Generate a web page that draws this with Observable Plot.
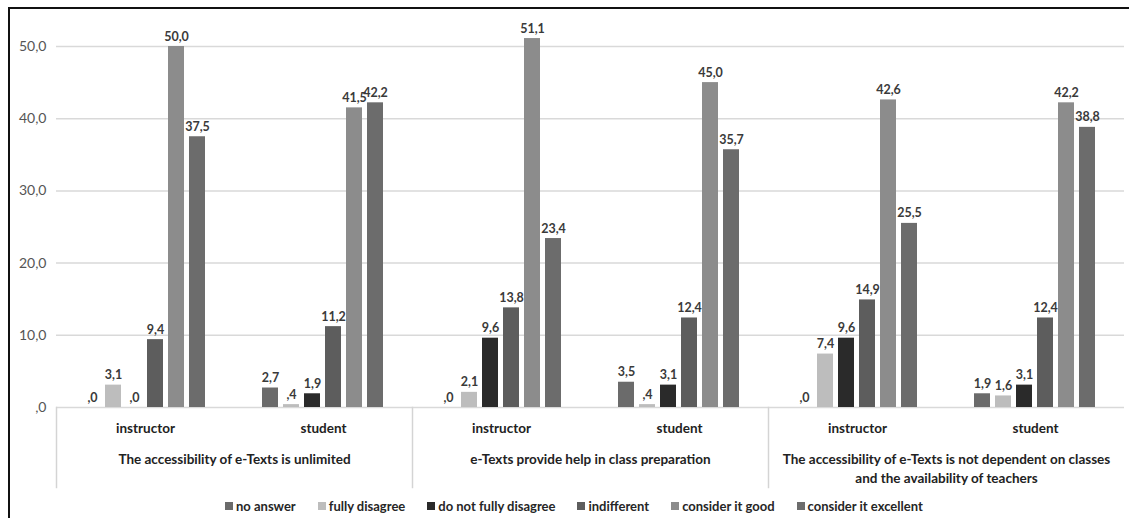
<!DOCTYPE html>
<html><head><meta charset="utf-8">
<script src="https://cdn.jsdelivr.net/npm/d3@7"></script>
<script src="https://cdn.jsdelivr.net/npm/@observablehq/plot@0.6"></script>
<style>
body{margin:0;background:#fff;}
#wrap{position:relative;width:1129px;height:518px;overflow:hidden;background:#fff;}
#border{position:absolute;left:8px;top:7px;width:1200px;height:600px;border-left:2px solid #111;border-top:2px solid #111;}
#chart{position:absolute;left:0;top:0;}
#legend{position:absolute;left:225px;top:489px;width:900px;white-space:nowrap;}
#legend div, #legend span{font-family:"Liberation Sans Narrow","Lato",sans-serif !important;font-size:13px !important;font-weight:bold !important;color:#262626 !important;margin-bottom:0 !important;}
#legend span{margin-right:22px !important;}
#legend svg{margin-right:3px !important;}
</style></head>
<body><div id="wrap"><div id="border"></div><div id="chart"></div><div id="legend"></div></div>
<script>
const categories = [
  "The accessibility of e-Texts is unlimited",
  "e-Texts provide help in class preparation",
  "The accessibility of e-Texts is not dependent on classes\nand the availability of teachers"
];
const roles = ["instructor", "student"];
const series = ["no answer", "fully disagree", "do not fully disagree", "indifferent", "consider it good", "consider it excellent"];
const colors = ["#6b6b6b", "#bdbdbd", "#2a2a2a", "#5d5d5d", "#8c8c8c", "#6c6c6c"];
const yTicks = [0, 10, 20, 30, 40, 50];

const unlimitedInstructor   = [0, 3.1, 0, 9.4, 50.0, 37.5];
const unlimitedStudent      = [2.7, 0.4, 1.9, 11.2, 41.5, 42.2];
const preparationInstructor = [0, 2.1, 9.6, 13.8, 51.1, 23.4];
const preparationStudent    = [3.5, 0.4, 3.1, 12.4, 45.0, 35.7];
const independentInstructor = [0, 7.4, 9.6, 14.9, 42.6, 25.5];
const independentStudent    = [1.9, 1.6, 3.1, 12.4, 42.2, 38.8];

const table = [
  [unlimitedInstructor, unlimitedStudent],
  [preparationInstructor, preparationStudent],
  [independentInstructor, independentStudent]
];

const rows = [];
const keys = [];
table.forEach((pair, ci) => {
  pair.forEach((vals, ri) => {
    const key = ci + "|" + roles[ri];
    keys.push(key);
    vals.forEach((v, si) => rows.push({key, category: categories[ci], role: roles[ri], series: series[si], value: v}));
  });
});

const fmt = v => v.toFixed(1).replace(".", ",").replace(/^0,/, ",");

const separators = categories.map((c, i) => Plot.frame({
  anchor: "left", fx: [i + "|instructor"], stroke: "#d4d4d4", strokeWidth: 1.5,
  insetTop: 361, insetBottom: -80
}));

const chart = Plot.plot({
  width: 1129, height: 495,
  marginTop: 46, marginBottom: 88, marginLeft: 55, marginRight: 4,
  style: {fontFamily: "Lato, sans-serif", background: "transparent", overflow: "visible"},
  fx: {domain: keys, padding: 0, label: null},
  x: {domain: series, paddingInner: 0.22, paddingOuter: 1.2, axis: null},
  y: {domain: [0, 50], label: null},
  color: {domain: series, range: colors},
  marks: [
    Plot.gridY(yTicks, {stroke: "#d9d9d9", strokeOpacity: 1, strokeWidth: 1.5}),
    Plot.axisY(yTicks, {tickSize: 0, tickPadding: 10, tickFormat: fmt, fontSize: 14, fill: "#555", label: null}),
    Plot.axisFx({anchor: "bottom", tickSize: 0, tickPadding: 16, tickFormat: k => k.split("|")[1], fontSize: 13.5, fontWeight: "bold", fill: "#222", label: null}),
    Plot.barY(rows, {fx: "key", x: "series", y: "value", fill: "series"}),
    Plot.text(rows, {fx: "key", x: "series", y: "value", text: d => fmt(d.value), dy: -6, lineAnchor: "bottom", fontSize: 12.5, fontWeight: "bold", fill: "#3a3a3a"}),
    Plot.text(categories, {fx: (d, i) => i + "|instructor", frameAnchor: "bottom-right", text: d => d, dy: 43, lineAnchor: "top", textAnchor: "middle", fontSize: 13.5, fontWeight: "bold", fill: "#222", lineHeight: 1.4}),
    ...separators
  ]
});
document.getElementById("chart").appendChild(chart);

const legend = Plot.legend({color: {domain: series, range: colors}, swatchSize: 8});
document.getElementById("legend").appendChild(legend);
</script>
</body></html>
